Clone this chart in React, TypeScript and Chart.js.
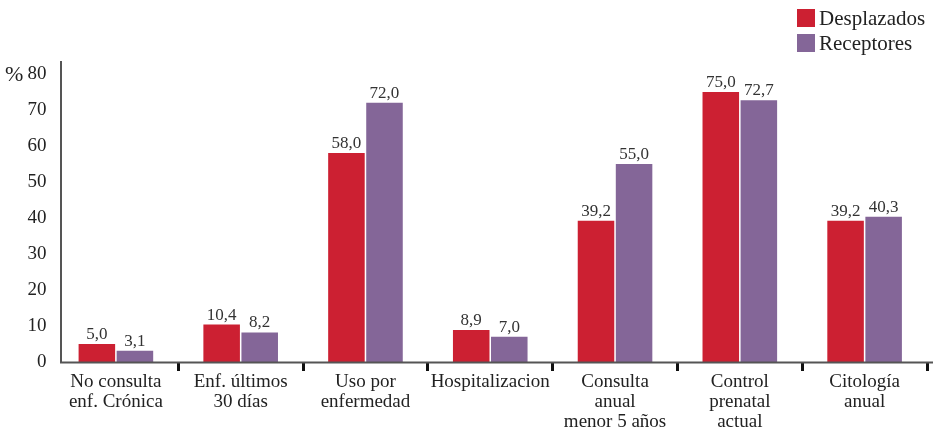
import React, { useEffect, useRef } from "react";
import { Chart, registerables } from "chart.js";

Chart.register(...registerables);

const categories: string[][] = [
  ["No consulta", "enf. Crónica"],
  ["Enf. últimos", "30 días"],
  ["Uso por", "enfermedad"],
  ["Hospitalizacion"],
  ["Consulta", "anual", "menor 5 años"],
  ["Control", "prenatal", "actual"],
  ["Citología", "anual"],
];
const desplazados: number[] = [5.0, 10.4, 58.0, 8.9, 39.2, 75.0, 39.2];
const receptores: number[] = [3.1, 8.2, 72.0, 7.0, 55.0, 72.7, 40.3];
const seriesNames: string[] = ["Desplazados", "Receptores"];
const yTicks: number[] = [0, 10, 20, 30, 40, 50, 60, 70, 80];

const RED = "rgb(204,32,50)";
const PURPLE = "rgb(132,102,152)";
const FONT = "'Liberation Serif', 'DejaVu Serif', serif";
const TEXT = "#222";

const decorPlugin = {
  id: "decor",
  afterDatasetsDraw(chart: any) {
    const ctx = chart.ctx;
    ctx.save();
    ctx.font = `17px ${FONT}`;
    ctx.fillStyle = "#333";
    ctx.textAlign = "center";
    ctx.textBaseline = "bottom";
    chart.data.datasets.forEach((ds: any, di: number) => {
      const meta = chart.getDatasetMeta(di);
      meta.data.forEach((bar: any, i: number) => {
        const v = ds.data[i] as number;
        ctx.fillText(v.toFixed(1).replace(".", ","), bar.x, bar.y - 1);
      });
    });
    ctx.restore();
  },
  afterDraw(chart: any) {
    const ctx = chart.ctx;
    const area = chart.chartArea;
    ctx.save();
    ctx.strokeStyle = "#555";
    ctx.lineWidth = 2;
    ctx.beginPath();
    ctx.moveTo(61, area.top - 1);
    ctx.lineTo(61, area.bottom + 1);
    ctx.moveTo(60, area.bottom + 0.5);
    ctx.lineTo(933, area.bottom + 0.5);
    ctx.stroke();
    ctx.fillStyle = TEXT;
    ctx.font = `22px ${FONT}`;
    ctx.textAlign = "left";
    ctx.textBaseline = "middle";
    ctx.fillText("%", 5, 75);
    const colors = [RED, PURPLE];
    seriesNames.forEach((name, i) => {
      const y = 9 + i * 25;
      ctx.fillStyle = colors[i];
      ctx.fillRect(797, y, 18, 18);
      ctx.fillStyle = TEXT;
      ctx.font = `21px ${FONT}`;
      ctx.fillText(name, 819, y + 10);
    });
    ctx.restore();
  },
};

export default function App() {
  const ref = useRef<HTMLCanvasElement | null>(null);
  useEffect(() => {
    document.body.style.margin = "0";
    if (!ref.current) return;
    const chart = new Chart(ref.current, {
      type: "bar",
      data: {
        labels: categories as any,
        datasets: [
          { label: seriesNames[0], data: desplazados, backgroundColor: RED },
          { label: seriesNames[1], data: receptores, backgroundColor: PURPLE },
        ],
      },
      options: {
        animation: false,
        responsive: false,
        maintainAspectRatio: false,
        layout: { padding: { top: 62, right: 11, left: 0, bottom: 0 } },
        datasets: {
          bar: { categoryPercentage: 0.61, barPercentage: 0.96 },
        } as any,
        plugins: {
          legend: { display: false },
          tooltip: { enabled: false },
        },
        scales: {
          x: {
            border: { display: false },
            grid: {
              offset: true,
              drawOnChartArea: false,
              drawTicks: true,
              tickLength: 9,
              tickWidth: 3,
              color: (c: any) => (c.index === 0 ? "rgba(0,0,0,0)" : "#111"),
            },
            ticks: {
              color: TEXT,
              font: { family: FONT, size: 19, lineHeight: 1.06 },
              padding: 1,
              maxRotation: 0,
              autoSkip: false,
            },
            afterFit: (s: any) => {
              s.height = 68;
            },
          },
          y: {
            min: 0,
            max: 83.3,
            border: { display: false },
            grid: { display: false, drawTicks: false },
            afterBuildTicks: (s: any) => {
              s.ticks = yTicks.map((v) => ({ value: v }));
            },
            ticks: {
              color: TEXT,
              font: { family: FONT, size: 19 },
              padding: 7,
              includeBounds: false,
            } as any,
            afterFit: (s: any) => {
              s.width = 53.5;
            },
          },
        },
      },
      plugins: [decorPlugin],
    });
    return () => chart.destroy();
  }, []);
  return (
    <div style={{ width: 938, height: 430, position: "relative" }}>
      <canvas ref={ref} width={938} height={430} style={{ display: "block" }} />
    </div>
  );
}
